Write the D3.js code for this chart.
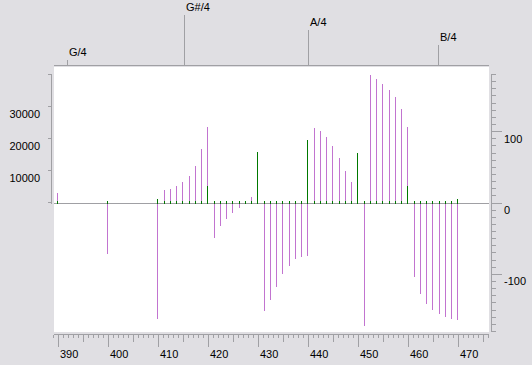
<!DOCTYPE html>
<html><head><meta charset="utf-8">
<script src="https://cdn.jsdelivr.net/npm/d3@7"></script>
<style>
html,body{margin:0;padding:0;background:#e0dfe3;}
svg{display:block;font-family:"Liberation Sans",Arial,sans-serif;font-size:11px;}
</style>
</head><body>
<svg id="chart" width="532" height="365"></svg>
<script>
// ---------- data ----------
const freqs = [389.8, 399.8, 409.8, 411.2, 412.4, 413.6, 414.8, 416.2, 417.4, 418.6,
  419.8, 421.2, 422.4, 423.6, 424.8, 426.2, 427.4, 428.6, 429.8, 431.2,
  432.4, 433.6, 434.8, 436.2, 437.4, 438.6, 439.8, 441.2, 442.4, 443.6,
  444.8, 446.2, 447.4, 448.6, 449.8, 451.2, 452.4, 453.6, 454.8, 456.2,
  457.4, 458.6, 459.8, 461.2, 462.4, 463.6, 464.8, 466.2, 467.4, 468.6, 469.8];
const amplitude = [600, 600, 1250, 600, 600, 600, 600, 600, 600, 600,
  5300, 600, 600, 600, 600, 600, 600, 600, 15700, 600,
  600, 600, 600, 600, 600, 600, 19400, 600, 600, 600,
  600, 600, 600, 600, 15600, 600, 600, 600, 600, 600,
  600, 600, 5300, 600, 600, 600, 600, 600, 600, 600, 1250];
const phase = [14, -71, -163, 18, 20, 24, 29, 38, 52, 76,
  107, -49, -32, -22, -14, -7, 2, 8, 20, -151,
  -136, -117, -100, -88, -79, -76, -74, 105, 101, 93,
  80, 63, 45, 29, 15, -172, 180, 174, 167, 158,
  149, 132, 107, -103, -127, -141, -150, -155, -160, -162, -164];
const freqTickLabels = [390, 400, 410, 420, 430, 440, 450, 460, 470];
const ampTickValues = [0, 10000, 20000, 30000, 40000];
const ampTickLabels = [10000, 20000, 30000];
const phaseTickLabels = [100, 0, -100];
const noteNames = ["G/4", "G#/4", "A/4", "B/4"];
const noteFreqs = [391.8, 415.2, 440.0, 466.0];

// ---------- layout ----------
const svg = d3.select("#chart");
const PL = 54, PR = 489, PT = 67, PB = 332;
const axisGrey = "#a0a0a4";
const violet = "#c274d0";
const green = "#007800";
const noteTickTop = [60, 15, 30, 45];

const x = d3.scaleLinear().domain([389.1, 476.1]).range([PL, PR]);
const yAmp = d3.scaleLinear().domain([0, 40000]).range([202.5, 74.5]);
const yPh = d3.scaleLinear().domain([-180, 180]).range([331.5, 74.5]);
const zeroY = 203.5;

// plot background
svg.append("rect").attr("x", PL).attr("y", PT).attr("width", PR - PL).attr("height", PB - PT).attr("fill", "#fff");

const g = svg.append("g").attr("shape-rendering", "crispEdges");

// baseline
g.append("line").attr("x1", PL).attr("x2", PR).attr("y1", zeroY).attr("y2", zeroY).attr("stroke", axisGrey);

const data = freqs.map((f, i) => ({f, a: amplitude[i], p: phase[i]}));

// phase stems
g.selectAll("line.ph").data(data).join("line").attr("class", "ph")
  .attr("x1", d => Math.round(x(d.f) - 0.5) + 0.5).attr("x2", d => Math.round(x(d.f) - 0.5) + 0.5)
  .attr("y1", d => d.p >= 0 ? 204 : 203)
  .attr("y2", d => yPh(d.p))
  .attr("stroke", violet);

// amplitude stems
g.selectAll("line.am").data(data).join("line").attr("class", "am")
  .attr("x1", d => Math.round(x(d.f) - 0.5) + 0.5).attr("x2", d => Math.round(x(d.f) - 0.5) + 0.5)
  .attr("y1", 204)
  .attr("y2", d => yAmp(d.a))
  .attr("stroke", green);

// bottom axis
const bx = svg.append("g").attr("shape-rendering", "crispEdges");
bx.append("line").attr("x1", PL).attr("x2", PR).attr("y1", 334.5).attr("y2", 334.5).attr("stroke", axisGrey);
const minorF = d3.range(389, 477);
bx.selectAll("line.t").data(minorF).join("line")
  .attr("x1", d => Math.round(x(d) - 0.5) + 0.5).attr("x2", d => Math.round(x(d) - 0.5) + 0.5)
  .attr("y1", 335).attr("y2", d => d % 10 === 0 ? 347 : (d % 5 === 0 ? 342 : 338))
  .attr("stroke", axisGrey);
svg.append("g").selectAll("text").data(freqTickLabels).join("text")
  .attr("x", d => Math.round(x(d) - 0.5) + 2).attr("y", 357.5).text(d => d).attr("fill", "#000");

// top note axis
const tx = svg.append("g").attr("shape-rendering", "crispEdges");
tx.append("line").attr("x1", PL).attr("x2", PR).attr("y1", 65.5).attr("y2", 65.5).attr("stroke", axisGrey);
tx.selectAll("line.n").data(noteFreqs).join("line")
  .attr("x1", d => Math.round(x(d) - 0.5) + 0.5).attr("x2", d => Math.round(x(d) - 0.5) + 0.5)
  .attr("y1", (d, i) => noteTickTop[i]).attr("y2", 65)
  .attr("stroke", axisGrey);
svg.append("g").selectAll("text").data(noteNames).join("text")
  .attr("x", (d, i) => Math.round(x(noteFreqs[i]) - 0.5) + 2)
  .attr("y", (d, i) => noteTickTop[i] - 4)
  .text(d => d).attr("fill", "#000");

// left amplitude axis
const lx = svg.append("g").attr("shape-rendering", "crispEdges");
lx.append("line").attr("x1", 51.5).attr("x2", 51.5).attr("y1", 74).attr("y2", 204).attr("stroke", axisGrey);
lx.selectAll("line.t").data(ampTickValues).join("line")
  .attr("x1", 48).attr("x2", 52).attr("y1", d => yAmp(d)).attr("y2", d => yAmp(d)).attr("stroke", axisGrey);
svg.append("g").selectAll("text").data(ampTickLabels).join("text")
  .attr("x", 40).attr("y", d => yAmp(d) + 11).attr("text-anchor", "end").text(d => d).attr("fill", "#000");

// right phase axis
const rx = svg.append("g").attr("shape-rendering", "crispEdges");
rx.append("line").attr("x1", 491.5).attr("x2", 491.5).attr("y1", 74).attr("y2", 332).attr("stroke", axisGrey);
const phTicks = d3.range(-180, 181, 10);
rx.selectAll("line.t").data(phTicks).join("line")
  .attr("x1", 491).attr("x2", d => d % 100 === 0 ? 502 : 496)
  .attr("y1", d => yPh(d)).attr("y2", d => yPh(d)).attr("stroke", axisGrey);
svg.append("g").selectAll("text").data(phaseTickLabels).join("text")
  .attr("x", 504).attr("y", d => yPh(d) + 11).text(d => d).attr("fill", "#000");
</script>
</body></html>
